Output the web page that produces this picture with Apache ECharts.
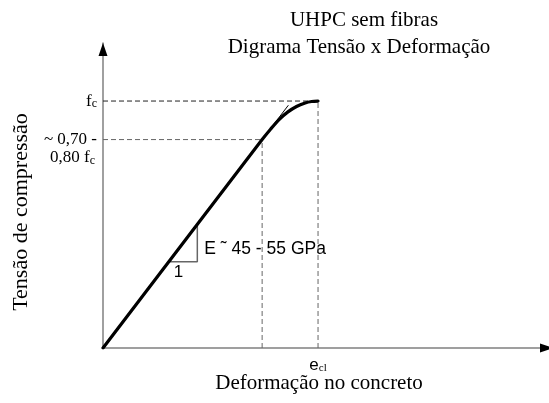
<!DOCTYPE html>
<html>
<head>
<meta charset="utf-8">
<script src="https://cdn.jsdelivr.net/npm/echarts@6/dist/echarts.min.js"></script>
<style>
html,body{margin:0;padding:0;background:#fff;}
#c{width:549px;height:403px;}
</style>
</head>
<body>
<div id="c"></div>
<script>
// Curve (normalised strain / stress, e_cl = 1, f_c = 1)
const strain = [0, 0.74, 0.78, 0.82, 0.86, 0.90, 0.94, 0.97, 1.0];
const stress = [0, 0.844, 0.887, 0.926, 0.956, 0.978, 0.992, 0.998, 1.0];
// thin tangent continuation
const tangentStrain = [0.74, 0.862];
const tangentStress = [0.844, 0.983];
// slope triangle
const triStrain = [0.31, 0.4386, 0.4386];
const triStress = [0.349, 0.349, 0.50];
// reference levels
const fcLevel = 1.0;
const eclLevel = 1.0;
const linLevel = 0.844;   // ~0,70 - 0,80 fc
const linStrain = 0.74;
// texts
const titleLines = ['UHPC sem fibras', 'Digrama Tensão x Deformação'];
const xName = 'Deformação no concreto';
const yName = 'Tensão de compressão';
const eText = 'E ˜ 45 - 55 GPa';

const SERIF = "'Liberation Serif', 'Times New Roman', serif";
const SANS = "'Liberation Sans', Arial, sans-serif";

const pairs = (xs, ys) => xs.map((x, i) => [x, ys[i]]);

const chart = echarts.init(document.getElementById('c'), null, {renderer: 'canvas'});
const dashed = (pts, color) => ({
  type: 'line', data: pts, symbol: 'none', silent: true,
  lineStyle: {color: color, width: 1, type: [5, 3]}, z: 1
});

chart.setOption({
  animation: false,
  backgroundColor: '#fff',
  grid: {left: 103, top: 43, width: 446, height: 305, containLabel: false},
  xAxis: {
    type: 'value', min: 0, max: 2.074,
    axisLine: {lineStyle: {color: '#808080', width: 1.5}},
    axisTick: {show: false}, axisLabel: {show: false}, splitLine: {show: false}
  },
  yAxis: {
    type: 'value', min: 0, max: 1.235,
    axisLine: {show: true, lineStyle: {color: '#808080', width: 1.5}},
    axisTick: {show: false}, axisLabel: {show: false}, splitLine: {show: false}
  },
  series: [
    dashed([[0, fcLevel], [eclLevel, fcLevel]], '#222'),
    dashed([[eclLevel, 0], [eclLevel, fcLevel]], '#666'),
    dashed([[0, linLevel], [linStrain, linLevel]], '#666'),
    dashed([[linStrain, 0], [linStrain, linLevel]], '#666'),
    {type: 'line', data: pairs(triStrain, triStress), symbol: 'none',
     lineStyle: {color: '#666', width: 1.5}, z: 2},
    {type: 'line', data: pairs(tangentStrain, tangentStress), symbol: 'none',
     lineStyle: {color: '#000', width: 1}, z: 3},
    {type: 'line', data: pairs(strain, stress), symbol: 'none', smooth: 0.3,
     lineStyle: {color: '#000', width: 3.2, cap: 'round'}, z: 4}
  ]
});

const P = (x, y) => chart.convertToPixel({gridIndex: 0}, [x, y]);
const pFc = P(0, fcLevel);
const pLin = P(0, linLevel);
const pEcl = P(eclLevel, 0);
const pTri = P(triStrain[1], (triStress[1] + triStress[2]) / 2);
const pOne = P((triStrain[0] + triStrain[1]) / 2, triStress[0]);
const yTop = P(0, 1.235);
const xEnd = P(2.074, 0);

chart.setOption({
  graphic: [
    // arrows
    {type: 'polygon', shape: {points: [[yTop[0], yTop[1]], [yTop[0] - 4.5, yTop[1] + 13], [yTop[0] + 4.5, yTop[1] + 13]]},
     style: {fill: '#000'}, z: 10},
    {type: 'polygon', shape: {points: [[xEnd[0] + 4, xEnd[1]], [xEnd[0] - 9, xEnd[1] - 4.5], [xEnd[0] - 9, xEnd[1] + 4.5]]},
     style: {fill: '#000'}, z: 10},
    // title
    {type: 'text', x: 364, y: 20, style: {text: titleLines[0], font: '21px ' + SERIF, fill: '#000', align: 'center', verticalAlign: 'middle'}},
    {type: 'text', x: 359, y: 47, style: {text: titleLines[1], font: '21px ' + SERIF, fill: '#000', align: 'center', verticalAlign: 'middle'}},
    // axis names
    {type: 'text', x: 319, y: 383, style: {text: xName, font: '21px ' + SERIF, fill: '#000', align: 'center', verticalAlign: 'middle'}},
    {type: 'text', x: 21, y: 212, rotation: Math.PI / 2,
     style: {text: yName, font: '22px ' + SERIF, fill: '#000', align: 'center', verticalAlign: 'middle'}},
    // f_c label
    {type: 'text', x: pFc[0] - 6, y: pFc[1],
     style: {text: '{a|f}{b|c}', align: 'right', verticalAlign: 'middle',
       rich: {a: {font: '17px ' + SERIF, fill: '#000'}, b: {font: '12px ' + SERIF, fill: '#000', padding: [6, 0, 0, 0]}}}},
    // ~0,70 - 0,80 fc
    {type: 'text', x: pLin[0] - 6, y: pLin[1],
     style: {text: '~ 0,70 -', font: '17px ' + SERIF, fill: '#000', align: 'right', verticalAlign: 'middle'}},
    {type: 'text', x: pLin[0] - 8, y: pLin[1] + 18,
     style: {text: '{a|0,80 f}{b|c}', align: 'right', verticalAlign: 'middle',
       rich: {a: {font: '17px ' + SERIF, fill: '#000'}, b: {font: '12px ' + SERIF, fill: '#000', padding: [6, 0, 0, 0]}}}},
    // e_cl label
    {type: 'text', x: pEcl[0], y: pEcl[1] + 17,
     style: {text: '{a|e}{b|cl}', align: 'center', verticalAlign: 'middle',
       rich: {a: {font: '17px ' + SANS, fill: '#000'}, b: {font: '11px ' + SERIF, fill: '#000', padding: [6, 0, 0, 0]}}}},
    // E label
    {type: 'text', x: pTri[0] + 7, y: pTri[1] + 6,
     style: {text: eText, font: '17.5px ' + SANS, fill: '#000', align: 'left', verticalAlign: 'middle'}},
    {type: 'text', x: pOne[0] - 5, y: pOne[1] + 11,
     style: {text: '1', font: '17px ' + SANS, fill: '#000', align: 'center', verticalAlign: 'middle'}}
  ]
});
</script>
</body>
</html>
